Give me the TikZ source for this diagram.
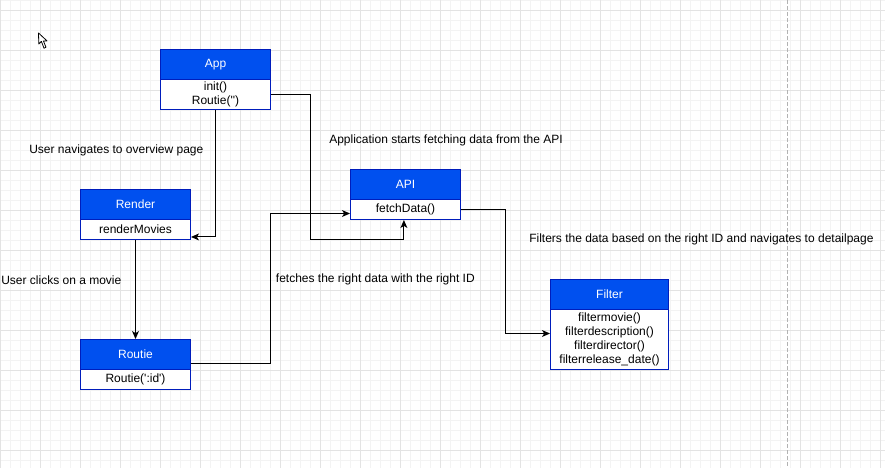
\documentclass[tikz,border=0pt]{standalone}
\usepackage{fontspec}
\setmainfont{Liberation Sans}
\usetikzlibrary{arrows.meta,calc}
\definecolor{hdrblue}{HTML}{0050EF}
\definecolor{strokeblue}{HTML}{001DBC}
\definecolor{gridmajor}{HTML}{E3E3E3}
\definecolor{gridminor}{HTML}{F3F3F3}
\begin{document}
\begin{tikzpicture}[x=0.75pt,y=-0.75pt,
  font=\fontsize{9}{10.5}\selectfont,
  minorline/.style={draw=gridminor,line width=0.75pt},
  majorline/.style={draw=gridmajor,line width=0.75pt},
  hdr/.style={draw=strokeblue,fill=hdrblue,text=white,line width=0.75pt,inner sep=0pt,minimum height=22.5pt},
  bodybox/.style={draw=strokeblue,fill=white,text=black,line width=0.75pt,inner sep=0pt,align=center},
  conn/.style={draw=black,line width=0.75pt,-{Stealth[length=6pt,width=5.2pt,inset=1.6pt]}},
  lbl/.style={anchor=west,inner sep=0pt,text=black}]
\useasboundingbox (0,0) rectangle (885,468);
\fill[white] (0,0) rectangle (885,468);
% grid
\foreach \x in {10,20,...,880} \draw[minorline] (\x,0) -- (\x,468);
\foreach \y in {0,10,...,460} \draw[minorline] (0,\y) -- (885,\y);
\foreach \x in {0,40,...,880} \draw[majorline] (\x,0) -- (\x,468);
\foreach \y in {10,50,...,450} \draw[majorline] (0,\y) -- (885,\y);
% page break
\draw[gray!60,line width=0.75pt,dash pattern=on 3pt off 1.5pt] (787,0) -- (787,468);
% cursor
\draw[black,fill=white,line width=0.6pt,line join=round] (38.5,33) -- ++(0.3,11) -- ++(2.6,-2.6) -- ++(2.6,6.8) -- ++(2,-0.9) -- ++(-2.6,-6.4) -- ++(3.6,0) -- cycle;
% classes
\node[hdr,minimum width=82.5pt] (apph) at (215.5,64.5) {App};
\node[bodybox,minimum width=82.5pt,minimum height=22.5pt] (appb) at (215.5,94.5) {init()\\Routie(\textquotesingle\textquotesingle)};
\node[hdr,minimum width=82.5pt] (rendh) at (135.5,204.5) {Render};
\node[bodybox,minimum width=82.5pt,minimum height=15pt] (rendb) at (135.5,229.5) {renderMovies};
\node[hdr,minimum width=82.5pt] (routh) at (135.5,354.5) {Routie};
\node[bodybox,minimum width=82.5pt,minimum height=15pt] (routb) at (135.5,379.5) {Routie(\textquotesingle:id\textquotesingle)};
\node[hdr,minimum width=82.5pt] (apih) at (405.5,184.5) {API};
\node[bodybox,minimum width=82.5pt,minimum height=15pt] (apib) at (405.5,209.5) {fetchData()};
\node[hdr,minimum width=88.5pt] (filth) at (609.5,294.5) {Filter};
\node[bodybox,minimum width=88.5pt,minimum height=45pt] (filtb) at (609.5,339.5) {filtermovie()\\filterdescription()\\filterdirector()\\filterrelease\_date()};
% connectors
\draw[conn] (appb.east) -| (310,239) -| ([xshift=-1.2pt]apib.south);
\draw[conn] (appb.south) |- ([yshift=-5.6pt]rendb.east);
\draw[conn] (rendb.south) -- (routh.north);
\draw[conn] ([yshift=-7.1pt]routh.east) -| (270.5,213.5) -- ([yshift=-3pt]apib.west);
\draw[conn] (apib.east) -| (505.5,333.5) -- ([yshift=4.5pt]filtb.west);
% labels
\node[lbl] (l1) at (29,150) {User navigates to overview page};
\node[lbl] (l2) at (1,280) {User clicks on a movie};
\node[lbl] (l3) at (329,140) {Application starts fetching data from the API};
\node[lbl] (l4) at (275.7,279.3) {fetches the right data with the right ID};
\node[lbl] (l5) at (529,239.3) {Filters the data based on the right ID and navigates to detailpage};
\end{tikzpicture}
\end{document}
